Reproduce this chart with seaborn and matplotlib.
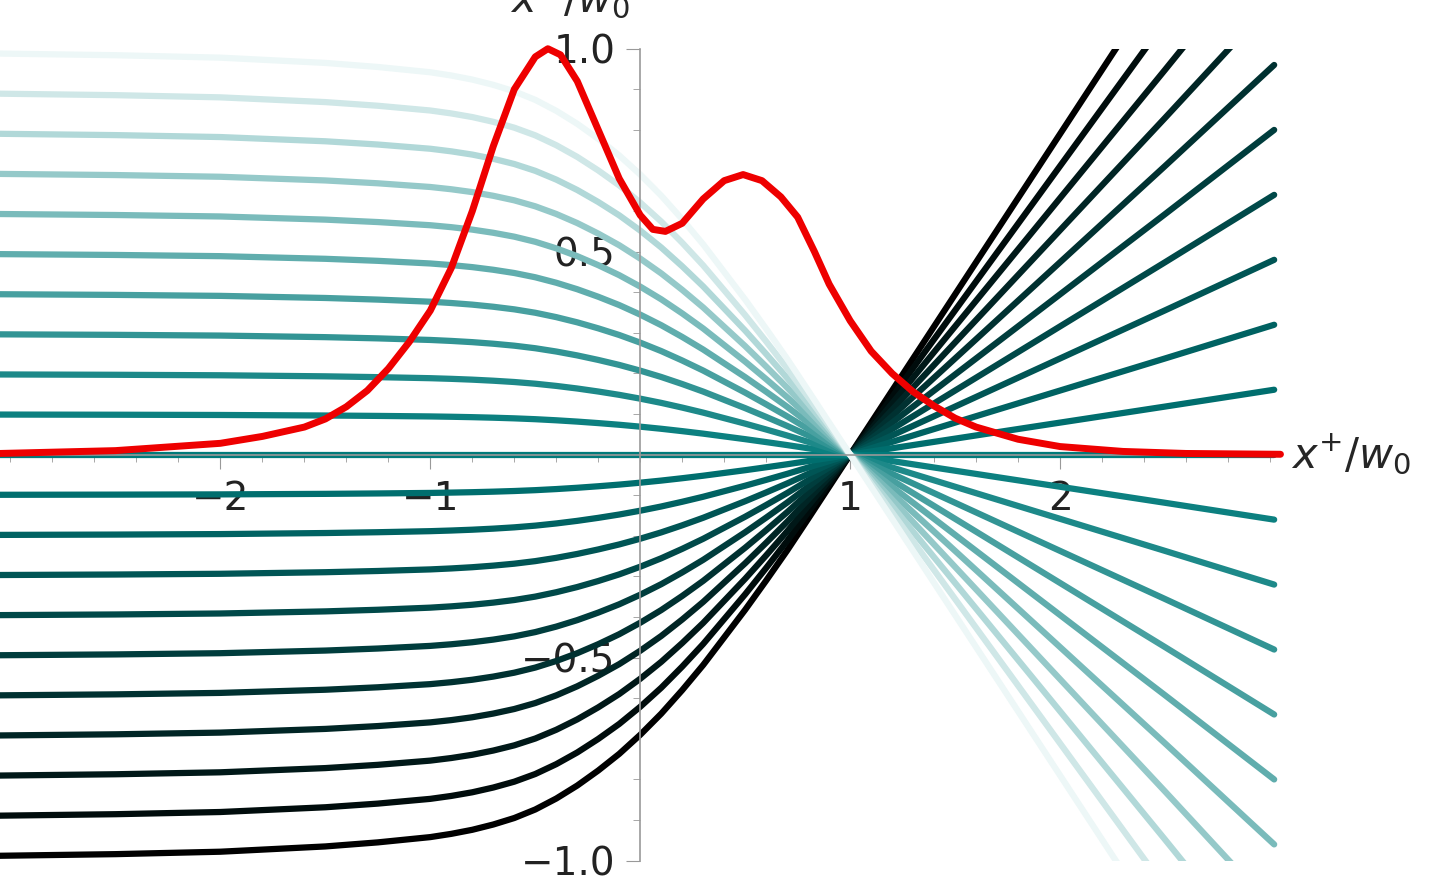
import numpy as np
import seaborn as sns
import matplotlib.pyplot as plt
from matplotlib.colors import to_rgb
from matplotlib.patches import Rectangle

sns.set_style("white")
plt.rcParams['font.family'] = ['DejaVu Sans']

# shared focusing profile: ray(x) = y0 * (1 - focus)
ray_x = [-3.05, -2.5, -2.0, -1.5, -1.25, -1.0, -0.9, -0.8, -0.7, -0.6, -0.5, -0.4,
         -0.3, -0.2, -0.1, 0.0, 0.1, 0.2, 0.3, 0.4, 0.5, 0.6, 0.7, 0.8, 0.9, 1.0,
         1.5, 2.0, 2.5, 3.02]
focus = [0.012, 0.016, 0.022, 0.035, 0.045, 0.058, 0.066, 0.076, 0.089, 0.105, 0.126, 0.153,
         0.185, 0.222, 0.263, 0.31, 0.362, 0.42, 0.482, 0.55, 0.618, 0.69, 0.764, 0.842,
         0.921, 1.0, 1.395, 1.79, 2.185, 2.6]
start_heights = [k / 10 for k in range(-10, 11)]

# red pulse profile
pulse_x = [-3.05, -2.5, -2.0, -1.8, -1.6, -1.5, -1.4, -1.3, -1.2, -1.1, -1.0, -0.9,
           -0.8, -0.7, -0.6, -0.5, -0.44, -0.38, -0.3, -0.2, -0.1, 0.0, 0.06, 0.12,
           0.2, 0.3, 0.4, 0.49, 0.58, 0.67, 0.75, 0.83, 0.9, 1.0, 1.1, 1.2, 1.3, 1.4,
           1.5, 1.6, 1.8, 2.0, 2.3, 2.6, 3.05]
pulse_y = [0.003, 0.01, 0.028, 0.045, 0.068, 0.088, 0.118, 0.158, 0.212, 0.278, 0.355, 0.46,
           0.6, 0.76, 0.9, 0.98, 1.0, 0.985, 0.92, 0.8, 0.68, 0.59, 0.555, 0.55,
           0.57, 0.63, 0.675, 0.69, 0.675, 0.635, 0.585, 0.5, 0.42, 0.33, 0.255, 0.2, 0.155, 0.12,
           0.09, 0.068, 0.038, 0.02, 0.008, 0.003, 0.001]

fig = plt.figure(figsize=(14.4, 8.85), dpi=100)
ax = fig.add_axes([0, 0, 1, 1])

teal = np.array(to_rgb("#007a7a"))
white = np.array([0.93, 0.97, 0.97])
fx = np.array(focus)
clip = Rectangle((-3.1, -1.0), 6.2, 2.0, transform=ax.transData, visible=False)
ax.add_patch(clip)
for y0 in start_heights:
    if y0 <= 0:
        c = teal * (1 + y0)
    else:
        c = teal + (white - teal) * y0 ** 1.3
    yy = y0 * (1 - fx)
    sns.lineplot(x=ray_x, y=yy, ax=ax, color=c, lw=4.5, sort=False, estimator=None)
    ax.lines[-1].set_clip_path(clip)

sns.lineplot(x=pulse_x, y=pulse_y, ax=ax, color="#ee0000", lw=5, sort=False,
             estimator=None, zorder=5)

ax.set_xlim(-3.05, 3.81)
ax.set_ylim(-1.06, 1.12)
for s in ["top", "right"]:
    ax.spines[s].set_visible(False)
ax.spines["left"].set_position(("data", 0))
ax.spines["bottom"].set_position(("data", 0))
ax.spines["left"].set_bounds(-1.0, 1.0)
ax.spines["bottom"].set_bounds(-3.05, 3.05)
for s in ["left", "bottom"]:
    ax.spines[s].set_color("#999999")
    ax.spines[s].set_linewidth(1.2)

ax.set_xticks([-2, -1, 1, 2])
ax.set_xticks(np.arange(-3, 3.01, 0.2), minor=True)
ax.set_yticks([-1.0, -0.5, 0.5, 1.0])
ax.set_yticks(np.arange(-1, 1.01, 0.1), minor=True)
ax.set_xticklabels(["\u22122", "\u22121", "1", "2"])
ax.set_yticklabels(["\u22121.0", "\u22120.5", "0.5", "1.0"])
ax.tick_params(axis="both", which="major", direction="out", length=10, color="#999999",
               labelsize=28, pad=8, labelcolor="#222222")
ax.tick_params(axis="both", which="minor", direction="out", length=5, color="#999999")
ax.tick_params(axis="x", bottom=True, which="both")
ax.tick_params(axis="y", left=True, which="both")

ax.text(3.1, 0.0, r"$x^{+}/w_0$", fontsize=30, va="center", ha="left")
ax.text(-0.05, 1.12, r"$x^{-}/w_0$", fontsize=30, va="center", ha="right")

fig.savefig("out.png", dpi=100)
